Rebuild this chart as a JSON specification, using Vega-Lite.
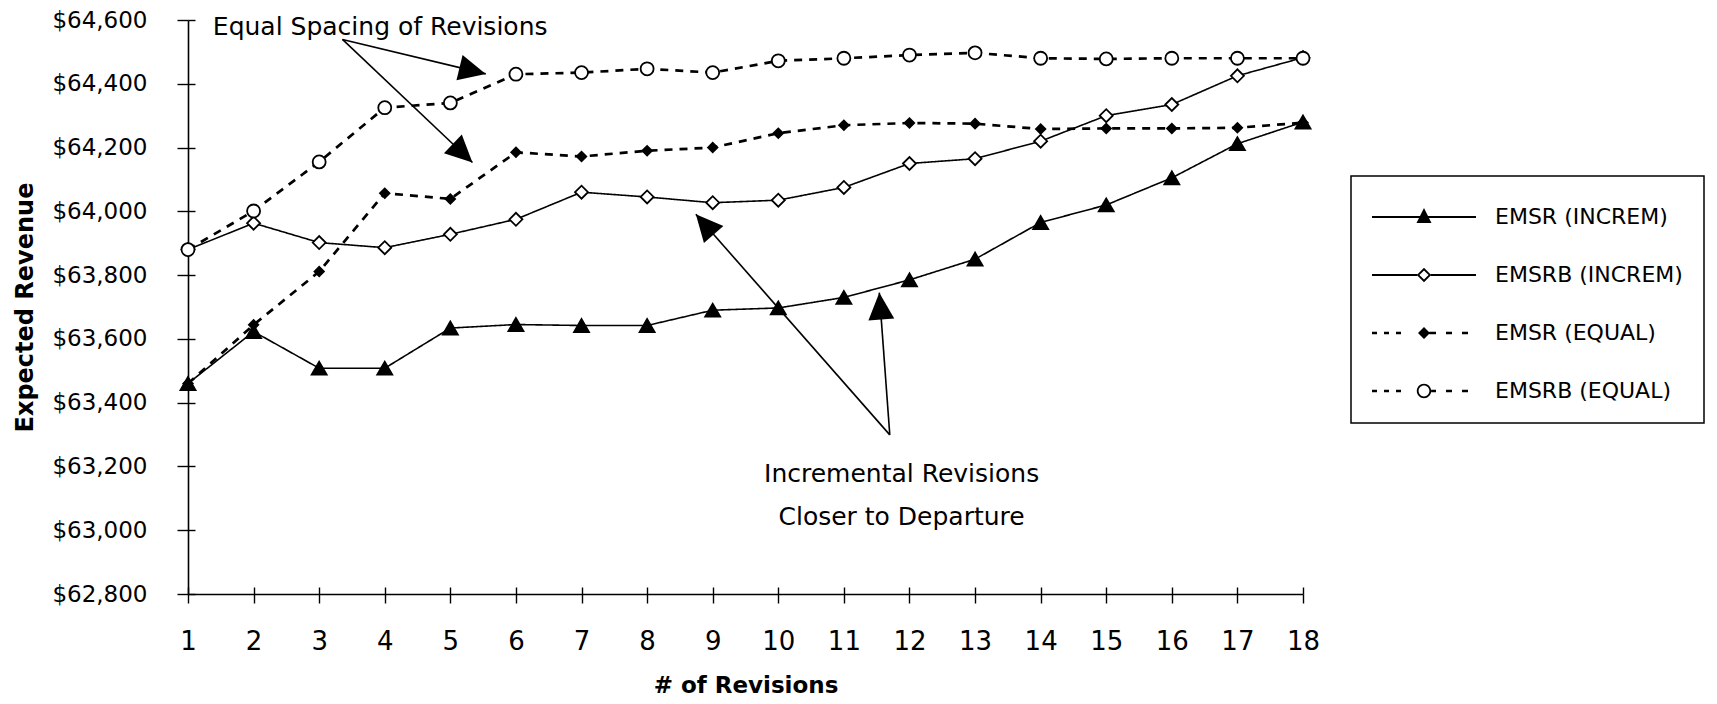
{
  "$schema": "https://vega.github.io/schema/vega-lite/v6.json",
  "width": 1115,
  "height": 574,
  "autosize": "none",
  "padding": {"left": 188, "top": 20, "right": 414, "bottom": 110},
  "background": "white",
  "config": {"view": {"stroke": null}, "font": "DejaVu Sans", "legend": {"strokeWidth": 1.5}},
  "datasets": {
    "rev": [
      {"rev": 1, "series": "EMSR (INCREM)", "value": 63460}, {"rev": 2, "series": "EMSR (INCREM)", "value": 63623}, {"rev": 3, "series": "EMSR (INCREM)", "value": 63508}, {"rev": 4, "series": "EMSR (INCREM)", "value": 63508}, {"rev": 5, "series": "EMSR (INCREM)", "value": 63634}, {"rev": 6, "series": "EMSR (INCREM)", "value": 63645}, {"rev": 7, "series": "EMSR (INCREM)", "value": 63642}, {"rev": 8, "series": "EMSR (INCREM)", "value": 63642}, {"rev": 9, "series": "EMSR (INCREM)", "value": 63690}, {"rev": 10, "series": "EMSR (INCREM)", "value": 63697}, {"rev": 11, "series": "EMSR (INCREM)", "value": 63730}, {"rev": 12, "series": "EMSR (INCREM)", "value": 63785}, {"rev": 13, "series": "EMSR (INCREM)", "value": 63850}, {"rev": 14, "series": "EMSR (INCREM)", "value": 63965}, {"rev": 15, "series": "EMSR (INCREM)", "value": 64020}, {"rev": 16, "series": "EMSR (INCREM)", "value": 64105}, {"rev": 17, "series": "EMSR (INCREM)", "value": 64212}, {"rev": 18, "series": "EMSR (INCREM)", "value": 64280},
      {"rev": 1, "series": "EMSRB (INCREM)", "value": 63880}, {"rev": 2, "series": "EMSRB (INCREM)", "value": 63963}, {"rev": 3, "series": "EMSRB (INCREM)", "value": 63902}, {"rev": 4, "series": "EMSRB (INCREM)", "value": 63886}, {"rev": 5, "series": "EMSRB (INCREM)", "value": 63928}, {"rev": 6, "series": "EMSRB (INCREM)", "value": 63975}, {"rev": 7, "series": "EMSRB (INCREM)", "value": 64060}, {"rev": 8, "series": "EMSRB (INCREM)", "value": 64045}, {"rev": 9, "series": "EMSRB (INCREM)", "value": 64027}, {"rev": 10, "series": "EMSRB (INCREM)", "value": 64035}, {"rev": 11, "series": "EMSRB (INCREM)", "value": 64075}, {"rev": 12, "series": "EMSRB (INCREM)", "value": 64150}, {"rev": 13, "series": "EMSRB (INCREM)", "value": 64165}, {"rev": 14, "series": "EMSRB (INCREM)", "value": 64220}, {"rev": 15, "series": "EMSRB (INCREM)", "value": 64300}, {"rev": 16, "series": "EMSRB (INCREM)", "value": 64335}, {"rev": 17, "series": "EMSRB (INCREM)", "value": 64425}, {"rev": 18, "series": "EMSRB (INCREM)", "value": 64482},
      {"rev": 1, "series": "EMSR (EQUAL)", "value": 63460}, {"rev": 2, "series": "EMSR (EQUAL)", "value": 63644}, {"rev": 3, "series": "EMSR (EQUAL)", "value": 63811}, {"rev": 4, "series": "EMSR (EQUAL)", "value": 64057}, {"rev": 5, "series": "EMSR (EQUAL)", "value": 64039}, {"rev": 6, "series": "EMSR (EQUAL)", "value": 64185}, {"rev": 7, "series": "EMSR (EQUAL)", "value": 64172}, {"rev": 8, "series": "EMSR (EQUAL)", "value": 64190}, {"rev": 9, "series": "EMSR (EQUAL)", "value": 64200}, {"rev": 10, "series": "EMSR (EQUAL)", "value": 64245}, {"rev": 11, "series": "EMSR (EQUAL)", "value": 64270}, {"rev": 12, "series": "EMSR (EQUAL)", "value": 64277}, {"rev": 13, "series": "EMSR (EQUAL)", "value": 64275}, {"rev": 14, "series": "EMSR (EQUAL)", "value": 64258}, {"rev": 15, "series": "EMSR (EQUAL)", "value": 64260}, {"rev": 16, "series": "EMSR (EQUAL)", "value": 64260}, {"rev": 17, "series": "EMSR (EQUAL)", "value": 64262}, {"rev": 18, "series": "EMSR (EQUAL)", "value": 64278},
      {"rev": 1, "series": "EMSRB (EQUAL)", "value": 63880}, {"rev": 2, "series": "EMSRB (EQUAL)", "value": 64001}, {"rev": 3, "series": "EMSRB (EQUAL)", "value": 64155}, {"rev": 4, "series": "EMSRB (EQUAL)", "value": 64325}, {"rev": 5, "series": "EMSRB (EQUAL)", "value": 64340}, {"rev": 6, "series": "EMSRB (EQUAL)", "value": 64430}, {"rev": 7, "series": "EMSRB (EQUAL)", "value": 64435}, {"rev": 8, "series": "EMSRB (EQUAL)", "value": 64447}, {"rev": 9, "series": "EMSRB (EQUAL)", "value": 64435}, {"rev": 10, "series": "EMSRB (EQUAL)", "value": 64472}, {"rev": 11, "series": "EMSRB (EQUAL)", "value": 64480}, {"rev": 12, "series": "EMSRB (EQUAL)", "value": 64490}, {"rev": 13, "series": "EMSRB (EQUAL)", "value": 64497}, {"rev": 14, "series": "EMSRB (EQUAL)", "value": 64480}, {"rev": 15, "series": "EMSRB (EQUAL)", "value": 64478}, {"rev": 16, "series": "EMSRB (EQUAL)", "value": 64480}, {"rev": 17, "series": "EMSRB (EQUAL)", "value": 64480}, {"rev": 18, "series": "EMSRB (EQUAL)", "value": 64480}
    ],
    "arrows": [
      {"arrow": "a1", "rev": 3.355, "value": 64539, "rev2": 5.54, "value2": 64431},
      {"arrow": "a2", "rev": 3.355, "value": 64539, "rev2": 5.337, "value2": 64153},
      {"arrow": "a3", "rev": 11.70, "value": 63299, "rev2": 8.743, "value2": 63991},
      {"arrow": "a4", "rev": 11.70, "value": 63299, "rev2": 11.54, "value2": 63745}
    ],
    "notes": [
      {"text": "Equal Spacing of Revisions", "rev": 3.93, "value": 64578},
      {"text": "Incremental Revisions", "rev": 11.88, "value": 63177},
      {"text": "Closer to Departure", "rev": 11.88, "value": 63042}
    ]
  },
  "resolve": {"axis": {"x": "independent", "y": "independent"}},
  "layer": [
    {
      "data": {"name": "rev"},
      "mark": {"type": "line", "color": "black"},
      "encoding": {
        "x": {"field": "rev", "type": "quantitative", "scale": {"domain": [1, 18], "nice": false, "zero": false},
          "axis": {"title": "# of Revisions", "orient": "bottom", "values": [1,2,3,4,5,6,7,8,9,10,11,12,13,14,15,16,17,18], "format": "d",
            "grid": false, "domainColor": "black", "domainWidth": 1.6, "tickColor": "black", "tickWidth": 1.4, "tickSize": 9,
            "labelFont": "DejaVu Sans", "labelFontSize": 26, "labelColor": "black", "labelPadding": 25, "labelFlush": false, "labelOverlap": false,
            "titleFont": "DejaVu Sans", "titleFontSize": 23, "titleFontWeight": "bold", "titleColor": "black", "titlePadding": 20}},
        "y": {"field": "value", "type": "quantitative", "scale": {"domain": [62800, 64600], "nice": false, "zero": false},
          "axis": {"title": "Expected Revenue", "orient": "left", "values": [62800,63000,63200,63400,63600,63800,64000,64200,64400,64600], "format": "$,.0f",
            "grid": false, "domainColor": "black", "domainWidth": 1.6, "tickColor": "black", "tickWidth": 1.4, "tickSize": 11,
            "labelFont": "DejaVu Sans", "labelFontSize": 23, "labelColor": "black", "labelPadding": 30, "labelFlush": false, "labelOverlap": false,
            "titleFont": "DejaVu Sans", "titleFontSize": 24, "titleFontWeight": "bold", "titleColor": "black", "titlePadding": 14}},
        "detail": {"field": "series", "type": "nominal"},
        "strokeDash": {"condition": {"test": "datum.series == 'EMSR (EQUAL)' || datum.series == 'EMSRB (EQUAL)'", "value": [8, 7]}, "value": [1, 0]},
        "strokeWidth": {"condition": {"test": "datum.series == 'EMSR (EQUAL)' || datum.series == 'EMSRB (EQUAL)'", "value": 2.7}, "value": 1.6}
      }
    },
    {
      "data": {"name": "rev"},
      "mark": {"type": "point", "filled": true, "color": "black", "opacity": 0},
      "encoding": {
        "x": {"field": "rev", "type": "quantitative", "axis": null},
        "y": {"field": "value", "type": "quantitative", "axis": null},
        "shape": {"field": "series", "type": "nominal",
          "scale": {"domain": ["EMSR (INCREM)", "EMSRB (INCREM)", "EMSR (EQUAL)", "EMSRB (EQUAL)"],
            "range": [
              "M-2.6,-0.045L2.6,-0.045L2.6,0.045L-2.6,0.045ZM0,-0.45L0.375,0.3L-0.375,0.3Z",
              "M-2.6,-0.045L-0.34,-0.045L-0.34,0.045L-2.6,0.045ZM0.34,-0.045L2.6,-0.045L2.6,0.045L0.34,0.045ZM0,-0.36L0.36,0L0,0.36L-0.36,0ZM0,-0.23L-0.23,0L0,0.23L0.23,0Z",
              "M-2.6,-0.06L-2.35,-0.06L-2.35,0.06L-2.6,0.06ZM-2,-0.06L-1.75,-0.06L-1.75,0.06L-2,0.06ZM-1.4,-0.06L-1.15,-0.06L-1.15,0.06L-1.4,0.06ZM0.27,-0.06L0.6,-0.06L0.6,0.06L0.27,0.06ZM1.1,-0.06L1.4,-0.06L1.4,0.06L1.1,0.06ZM1.9,-0.06L2.2,-0.06L2.2,0.06L1.9,0.06ZM0,-0.3L0.3,0L0,0.3L-0.3,0Z",
              "M-2.6,-0.06L-2.35,-0.06L-2.35,0.06L-2.6,0.06ZM-2,-0.06L-1.75,-0.06L-1.75,0.06L-2,0.06ZM-1.4,-0.06L-1.15,-0.06L-1.15,0.06L-1.4,0.06ZM0.36,-0.06L0.6,-0.06L0.6,0.06L0.36,0.06ZM1.1,-0.06L1.4,-0.06L1.4,0.06L1.1,0.06ZM1.9,-0.06L2.2,-0.06L2.2,0.06L1.9,0.06ZM0.36,0A0.36,0.36 0 1 1 -0.36,0A0.36,0.36 0 1 1 0.36,0ZM0.27,0A0.27,0.27 0 1 0 -0.27,0A0.27,0.27 0 1 0 0.27,0Z"
            ]},
          "legend": {
            "title": null, "orient": "none", "legendX": 1163, "legendY": 156,
            "padding": 21, "strokeColor": "black", "fillColor": "white",
            "symbolSize": 1600, "symbolOffset": 32, "labelOffset": 51, "rowPadding": 27,
            "symbolOpacity": 1, "symbolFillColor": "black", "symbolStrokeWidth": 0,
            "labelFont": "DejaVu Sans", "labelFontSize": 22, "labelColor": "black", "labelLimit": 400}}
      }
    },
    {
      "data": {"name": "rev"},
      "mark": {"type": "point", "filled": false, "stroke": "black", "strokeWidth": 1.8, "opacity": 1},
      "encoding": {
        "x": {"field": "rev", "type": "quantitative",
          "axis": {"title": null, "orient": "bottom", "labels": false, "domain": false, "grid": false, "values": [1,2,3,4,5,6,7,8,9,10,11,12,13,14,15,16,17,18], "tickColor": "black", "tickWidth": 1.4, "tickSize": -7}},
        "y": {"field": "value", "type": "quantitative",
          "axis": {"title": null, "orient": "left", "labels": false, "domain": false, "grid": false, "values": [62800,63000,63200,63400,63600,63800,64000,64200,64400,64600], "tickColor": "black", "tickWidth": 1.4, "tickSize": -7}},
        "shape": {"condition": [
          {"test": "datum.series == 'EMSR (INCREM)'", "value": "triangle-up"},
          {"test": "datum.series == 'EMSRB (EQUAL)'", "value": "circle"}
        ], "value": "diamond"},
        "fill": {"condition": {"test": "datum.series == 'EMSRB (INCREM)' || datum.series == 'EMSRB (EQUAL)'", "value": "white"}, "value": "black"},
        "size": {"condition": [
          {"test": "datum.series == 'EMSR (INCREM)'", "value": 225},
          {"test": "datum.series == 'EMSR (EQUAL)'", "value": 90}
        ], "value": 169}
      }
    },
    {
      "data": {"name": "arrows"},
      "mark": {"type": "rule", "color": "black", "strokeWidth": 1.6},
      "encoding": {
        "x": {"field": "rev", "type": "quantitative", "axis": null},
        "y": {"field": "value", "type": "quantitative", "axis": null},
        "x2": {"field": "rev2"},
        "y2": {"field": "value2"}
      }
    },
    {
      "data": {"name": "arrows"},
      "transform": [{"filter": "datum.arrow == 'a1'"}],
      "mark": {"type": "point", "shape": "M0,0L0.48,1L-0.48,1Z", "size": 2916, "filled": true, "color": "black", "opacity": 1, "angle": 103.6},
      "encoding": {
        "x": {"field": "rev2", "type": "quantitative", "axis": null},
        "y": {"field": "value2", "type": "quantitative", "axis": null}
      }
    },
    {
      "data": {"name": "arrows"},
      "transform": [{"filter": "datum.arrow == 'a2'"}],
      "mark": {"type": "point", "shape": "M0,0L0.48,1L-0.48,1Z", "size": 2916, "filled": true, "color": "black", "opacity": 1, "angle": 133.5},
      "encoding": {
        "x": {"field": "rev2", "type": "quantitative", "axis": null},
        "y": {"field": "value2", "type": "quantitative", "axis": null}
      }
    },
    {
      "data": {"name": "arrows"},
      "transform": [{"filter": "datum.arrow == 'a3'"}],
      "mark": {"type": "point", "shape": "M0,0L0.48,1L-0.48,1Z", "size": 2916, "filled": true, "color": "black", "opacity": 1, "angle": -41.3},
      "encoding": {
        "x": {"field": "rev2", "type": "quantitative", "axis": null},
        "y": {"field": "value2", "type": "quantitative", "axis": null}
      }
    },
    {
      "data": {"name": "arrows"},
      "transform": [{"filter": "datum.arrow == 'a4'"}],
      "mark": {"type": "point", "shape": "M0,0L0.48,1L-0.48,1Z", "size": 2916, "filled": true, "color": "black", "opacity": 1, "angle": -4.3},
      "encoding": {
        "x": {"field": "rev2", "type": "quantitative", "axis": null},
        "y": {"field": "value2", "type": "quantitative", "axis": null}
      }
    },
    {
      "data": {"name": "notes"},
      "mark": {"type": "text", "font": "DejaVu Sans", "fontSize": 25, "color": "black", "align": "center", "baseline": "middle"},
      "encoding": {
        "x": {"field": "rev", "type": "quantitative", "axis": null},
        "y": {"field": "value", "type": "quantitative", "axis": null},
        "text": {"field": "text"}
      }
    }
  ]
}
